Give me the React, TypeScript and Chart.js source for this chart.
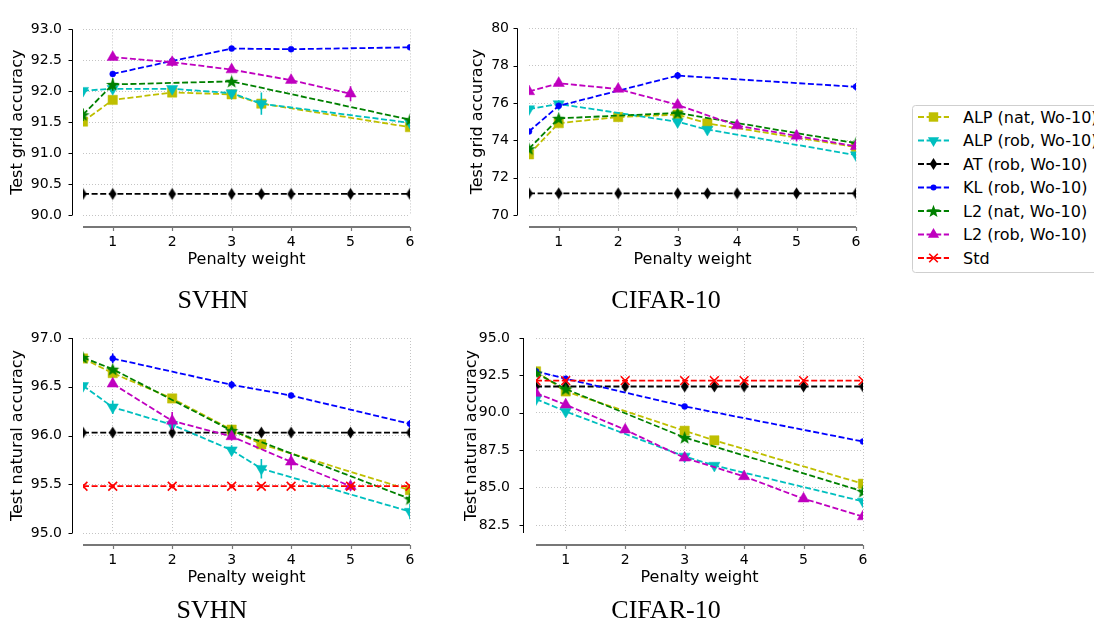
import React, { useEffect, useRef } from 'react';
import { Chart, registerables } from 'chart.js';

Chart.register(...registerables);

// ---------------- data ----------------
const PENALTY = [0.5, 1, 2, 3, 3.5, 4, 5, 6];
const X_TICKS = [1, 2, 3, 4, 5, 6];
const SERIES = [
  'ALP (nat, Wo-10)',
  'ALP (rob, Wo-10)',
  'AT (rob, Wo-10)',
  'KL (rob, Wo-10)',
  'L2 (nat, Wo-10)',
  'L2 (rob, Wo-10)',
  'Std',
];
const COLORS = ['#bfbf00', '#00bfbf', '#000000', '#0000ff', '#008000', '#bf00bf', '#ff0000'];

type V = number | null;
const _ = null;

// SVHN – test grid accuracy
const svhnGridAlpNat: V[] = [91.51, 91.86, 91.98, 91.95, 91.8, _, _, 91.42];
const svhnGridAlpRob: V[] = [92.01, 92.04, 92.04, 91.97, 91.8, _, _, 91.49];
const svhnGridAt: V[] = [90.34, 90.34, 90.34, 90.34, 90.34, 90.34, 90.34, 90.34];
const svhnGridKl: V[] = [_, 92.28, 92.49, 92.69, _, 92.68, _, 92.71];
const svhnGridL2Nat: V[] = [91.62, 92.11, _, 92.16, _, _, _, 91.54];
const svhnGridL2Rob: V[] = [_, 92.55, 92.47, 92.35, _, 92.18, 91.96, _];
const svhnGridStd: V[] = [_, _, _, _, _, _, _, _];
const svhnGridErr: number[][] = [
  [0.05, 0.04, 0.07, 0.03, 0.05, 0, 0, 0.03],
  [0.02, 0.02, 0.03, 0.03, 0.18, 0, 0, 0.03],
  [0.01, 0.01, 0.01, 0.01, 0.01, 0.01, 0.01, 0.01],
  [0, 0.03, 0.02, 0.03, 0, 0.01, 0, 0.03],
  [0.1, 0.1, 0, 0.03, 0, 0, 0, 0.05],
  [0, 0.04, 0.07, 0.04, 0, 0.04, 0.12, 0],
  [0, 0, 0, 0, 0, 0, 0, 0],
];

// CIFAR-10 – test grid accuracy
const cifarGridAlpNat: V[] = [73.25, 74.92, 75.25, 75.38, 74.91, _, _, 73.64];
const cifarGridAlpRob: V[] = [75.68, 75.95, _, 74.99, 74.58, _, _, 73.21];
const cifarGridAt: V[] = [71.16, 71.16, 71.16, 71.16, 71.16, 71.16, 71.16, 71.16];
const cifarGridKl: V[] = [74.48, 75.85, _, 77.47, _, _, _, 76.87];
const cifarGridL2Nat: V[] = [73.55, 75.18, _, 75.47, _, _, _, 73.85];
const cifarGridL2Rob: V[] = [76.62, 77.06, 76.75, 75.9, _, 74.79, 74.24, 73.68];
const cifarGridStd: V[] = [_, _, _, _, _, _, _, _];
const cifarGridErr: number[][] = [
  [0.15, 0.15, 0.1, 0.15, 0.15, 0, 0, 0.15],
  [0.1, 0.2, 0, 0.1, 0.15, 0, 0, 0.15],
  [0.1, 0.1, 0.1, 0.1, 0.1, 0.1, 0.1, 0.1],
  [0.1, 0.15, 0, 0.2, 0, 0, 0, 0.2],
  [0.15, 0.15, 0, 0.15, 0, 0, 0, 0.1],
  [0.1, 0.1, 0.1, 0.15, 0, 0.2, 0.3, 0.15],
  [0, 0, 0, 0, 0, 0, 0, 0],
];

// SVHN – test natural accuracy
const svhnNatAlpNat: V[] = [96.79, 96.64, 96.38, 96.06, 95.91, _, _, 95.44];
const svhnNatAlpRob: V[] = [96.51, 96.29, 96.11, 95.85, 95.66, _, _, 95.22];
const svhnNatAt: V[] = [96.03, 96.03, 96.03, 96.03, 96.03, 96.03, 96.03, 96.03];
const svhnNatKl: V[] = [_, 96.79, _, 96.52, _, 96.41, _, 96.12];
const svhnNatL2Nat: V[] = [96.8, 96.68, _, 96.05, _, _, _, 95.35];
const svhnNatL2Rob: V[] = [_, 96.53, 96.15, 95.99, _, 95.73, 95.48, _];
const svhnNatStd: V[] = [95.48, 95.48, 95.48, 95.48, 95.48, 95.48, 95.48, 95.48];
const svhnNatErr: number[][] = [
  [0.02, 0.03, 0.03, 0.03, 0.03, 0, 0, 0.03],
  [0.03, 0.07, 0.03, 0.05, 0.1, 0, 0, 0.08],
  [0.02, 0.02, 0.02, 0.02, 0.02, 0.02, 0.02, 0.02],
  [0, 0.05, 0, 0.04, 0, 0.02, 0, 0.04],
  [0.02, 0.03, 0, 0.02, 0, 0, 0, 0.03],
  [0, 0.03, 0.09, 0.04, 0, 0.08, 0.05, 0],
  [0.02, 0.02, 0.02, 0.02, 0.02, 0.02, 0.02, 0.02],
];

// CIFAR-10 – test natural accuracy
const cifarNatAlpNat: V[] = [92.77, 91.43, _, 88.8, 88.16, _, _, 85.26];
const cifarNatAlpRob: V[] = [90.92, 90.09, _, 87.09, 86.48, _, _, 84.08];
const cifarNatAt: V[] = [91.76, 91.76, 91.76, 91.76, 91.76, 91.76, 91.76, 91.76];
const cifarNatKl: V[] = [92.77, 92.28, _, 90.43, _, _, _, 88.08];
const cifarNatL2Nat: V[] = [92.66, 91.59, _, 88.35, _, _, _, 84.75];
const cifarNatL2Rob: V[] = [91.32, 90.54, 88.87, 86.99, _, 85.75, 84.26, 83.07];
const cifarNatStd: V[] = [92.15, 92.15, 92.15, 92.15, 92.15, 92.15, 92.15, 92.15];
const cifarNatErr: number[][] = [
  [0.15, 0.1, 0, 0.15, 0.15, 0, 0, 0.15],
  [0.1, 0.15, 0, 0.1, 0.1, 0, 0, 0.15],
  [0.15, 0.15, 0.15, 0.15, 0.15, 0.15, 0.15, 0.15],
  [0.1, 0.1, 0, 0.1, 0, 0, 0, 0.1],
  [0.15, 0.1, 0, 0.1, 0, 0, 0, 0.15],
  [0.1, 0.15, 0.1, 0.1, 0, 0.1, 0.1, 0.1],
  [0.1, 0.1, 0.1, 0.1, 0.1, 0.1, 0.1, 0.1],
];

const SVHN_GRID_TICKS = [90.0, 90.5, 91.0, 91.5, 92.0, 92.5, 93.0];
const CIFAR_GRID_TICKS = [70, 72, 74, 76, 78, 80];
const SVHN_NAT_TICKS = [95.0, 95.5, 96.0, 96.5, 97.0];
const CIFAR_NAT_TICKS = [82.5, 85.0, 87.5, 90.0, 92.5, 95.0];

const X_TITLE = 'Penalty weight';
const GRID_TITLE = 'Test grid accuracy';
const NAT_TITLE = 'Test natural accuracy';

// ---------------- styling / layout ----------------
const FONT = "'DejaVu Sans', sans-serif";
const SERIF = "'Liberation Serif', 'Times New Roman', serif";
const LINE_W = 1.8;
const DASH = [6, 2.6];

function makeMarkerCanvas(kind: 'diamond' | 'star', color: string): HTMLCanvasElement {
  const c = document.createElement('canvas');
  if (kind === 'diamond') {
    c.width = 9;
    c.height = 13;
    const ctx = c.getContext('2d')!;
    ctx.fillStyle = color;
    ctx.beginPath();
    ctx.moveTo(4.5, 0.5);
    ctx.lineTo(8.3, 6.5);
    ctx.lineTo(4.5, 12.5);
    ctx.lineTo(0.7, 6.5);
    ctx.closePath();
    ctx.fill();
  } else {
    c.width = 15;
    c.height = 15;
    const ctx = c.getContext('2d')!;
    ctx.fillStyle = color;
    ctx.beginPath();
    for (let k = 0; k < 10; k++) {
      const r = k % 2 === 0 ? 7 : 2.9;
      const a = -Math.PI / 2 + (k * Math.PI) / 5;
      const px = 7.5 + r * Math.cos(a);
      const py = 8.1 + r * Math.sin(a);
      if (k === 0) ctx.moveTo(px, py);
      else ctx.lineTo(px, py);
    }
    ctx.closePath();
    ctx.fill();
  }
  return c;
}

function markerFor(i: number): any {
  switch (i) {
    case 0:
      return { pointStyle: 'rect', pointRadius: 6.6, pointRotation: 0, pointBorderWidth: 0.5 };
    case 1:
      return { pointStyle: 'triangle', pointRadius: 6.5, pointRotation: 180, pointBorderWidth: 0.5 };
    case 2:
      return { pointStyle: makeMarkerCanvas('diamond', COLORS[2]), pointRadius: 6, pointRotation: 0, pointBorderWidth: 0 };
    case 3:
      return { pointStyle: 'circle', pointRadius: 3, pointRotation: 0, pointBorderWidth: 0.5 };
    case 4:
      return { pointStyle: makeMarkerCanvas('star', COLORS[4]), pointRadius: 6, pointRotation: 0, pointBorderWidth: 0 };
    case 5:
      return { pointStyle: 'triangle', pointRadius: 6.5, pointRotation: 0, pointBorderWidth: 0.5 };
    default:
      return { pointStyle: 'crossRot', pointRadius: 6.2, pointRotation: 0, pointBorderWidth: 1.6 };
  }
}

interface PanelSpec {
  values: V[][];
  errors: number[][];
  yMin: number;
  yMax: number;
  yTicks: number[];
  yDecimals: number;
  yTitle: string;
  cx: number;
  cy: number;
  cw: number;
  ch: number;
  l: number;
  r: number;
  t: number;
  b: number;
  yTitleX: number;
  yPad: number;
  ySpineOff: number;
}

const PANELS: PanelSpec[] = [
  {
    values: [svhnGridAlpNat, svhnGridAlpRob, svhnGridAt, svhnGridKl, svhnGridL2Nat, svhnGridL2Rob, svhnGridStd],
    errors: svhnGridErr,
    yMin: 90, yMax: 93, yTicks: SVHN_GRID_TICKS, yDecimals: 1, yTitle: GRID_TITLE,
    cx: 0, cy: 0, cw: 435, ch: 282, l: 83, r: 410, t: 20, b: 215, yTitleX: 18, yPad: 21, ySpineOff: 11,
  },
  {
    values: [cifarGridAlpNat, cifarGridAlpRob, cifarGridAt, cifarGridKl, cifarGridL2Nat, cifarGridL2Rob, cifarGridStd],
    errors: cifarGridErr,
    yMin: 70, yMax: 80, yTicks: CIFAR_GRID_TICKS, yDecimals: 0, yTitle: GRID_TITLE,
    cx: 455, cy: 0, cw: 426, ch: 282, l: 529, r: 856, t: 20, b: 215, yTitleX: 478, yPad: 20, ySpineOff: 12,
  },
  {
    values: [svhnNatAlpNat, svhnNatAlpRob, svhnNatAt, svhnNatKl, svhnNatL2Nat, svhnNatL2Rob, svhnNatStd],
    errors: svhnNatErr,
    yMin: 95, yMax: 97, yTicks: SVHN_NAT_TICKS, yDecimals: 1, yTitle: NAT_TITLE,
    cx: 0, cy: 300, cw: 435, ch: 300, l: 83, r: 410, t: 338, b: 533, yTitleX: 18, yPad: 21, ySpineOff: 11,
  },
  {
    values: [cifarNatAlpNat, cifarNatAlpRob, cifarNatAt, cifarNatKl, cifarNatL2Nat, cifarNatL2Rob, cifarNatStd],
    errors: cifarNatErr,
    yMin: 81.97, yMax: 95, yTicks: CIFAR_NAT_TICKS, yDecimals: 1, yTitle: NAT_TITLE,
    cx: 455, cy: 300, cw: 433, ch: 300, l: 536, r: 863, t: 338, b: 533, yTitleX: 472, yPad: 26, ySpineOff: 13,
  },
];

const decorPlugin = {
  id: 'decor',
  beforeDatasetDraw(chart: any, args: any) {
    const ds = chart.data.datasets[args.index];
    const { ctx, chartArea: a, scales } = chart;
    ctx.save();
    ctx.beginPath();
    ctx.rect(a.left, a.top, a.right - a.left, a.bottom - a.top);
    ctx.clip();
    ctx.strokeStyle = ds.borderColor;
    ctx.lineWidth = 1.6;
    ctx.beginPath();
    for (const p of ds.data) {
      if (!p.e) continue;
      const px = scales.x.getPixelForValue(p.x);
      ctx.moveTo(px, scales.y.getPixelForValue(p.y - p.e));
      ctx.lineTo(px, scales.y.getPixelForValue(p.y + p.e));
    }
    ctx.stroke();
    ctx.restore();
  },
  afterDraw(chart: any, _args: any, opts: any) {
    const { ctx, chartArea: a, scales } = chart;
    ctx.save();
    const sx = Math.round(a.left - opts.ySpineOff) + 0.5;
    ctx.strokeStyle = '#000';
    ctx.lineWidth = 1;
    ctx.beginPath();
    ctx.moveTo(sx, a.top);
    ctx.lineTo(sx, a.bottom);
    for (const t of scales.y.ticks) {
      const py = Math.round(scales.y.getPixelForValue(t.value)) + 0.5;
      ctx.moveTo(sx - 4, py);
      ctx.lineTo(sx, py);
    }
    ctx.stroke();
    const sy = a.bottom + opts.xSpineOff;
    ctx.strokeStyle = '#777';
    ctx.lineWidth = 1.8;
    ctx.beginPath();
    ctx.moveTo(a.left, sy);
    ctx.lineTo(a.right, sy);
    ctx.stroke();
    ctx.lineWidth = 1.2;
    ctx.beginPath();
    for (const t of scales.x.ticks) {
      const px = Math.round(scales.x.getPixelForValue(t.value)) + 0.5;
      ctx.moveTo(px, sy);
      ctx.lineTo(px, sy + 4);
    }
    ctx.stroke();
    ctx.restore();
  },
};

function makeConfig(p: PanelSpec): any {
  const datasets = SERIES.map((label, i) => {
    const pts: any[] = [];
    PENALTY.forEach((x, j) => {
      const y = p.values[i][j];
      if (y !== null && y !== undefined) pts.push({ x, y, e: p.errors[i][j] });
    });
    return {
      label,
      data: pts,
      borderColor: COLORS[i],
      backgroundColor: COLORS[i],
      pointBackgroundColor: COLORS[i],
      pointBorderColor: COLORS[i],
      borderWidth: LINE_W,
      borderDash: DASH,
      fill: false,
      tension: 0,
      clip: 0,
      order: -i,
      ...markerFor(i),
    };
  });
  const xH = p.ch - (p.b - p.cy);
  const xTitlePadBottom = p.ch - 9.6 - (p.b + 45 - p.cy);
  const yW = p.l - p.cx;
  const yTitlePadTop = p.yTitleX - p.cx - 9.6;
  const grid = { color: '#c4c4c4', lineWidth: 1, drawTicks: false };
  const border = { display: false, dash: [1, 2] };
  return {
    type: 'line',
    data: { datasets },
    plugins: [decorPlugin],
    options: {
      animation: false,
      responsive: false,
      events: [],
      layout: {
        autoPadding: false,
        padding: { left: 0, top: p.t - p.cy, right: p.cx + p.cw - p.r, bottom: 0 },
      },
      plugins: {
        legend: { display: false },
        tooltip: { enabled: false },
        decor: { ySpineOff: p.ySpineOff, xSpineOff: 12 },
      },
      scales: {
        x: {
          type: 'linear',
          min: 0.5,
          max: 6,
          afterBuildTicks: (s: any) => {
            s.ticks = X_TICKS.map((v) => ({ value: v }));
          },
          afterFit: (s: any) => {
            s.height = xH;
          },
          grid,
          border,
          ticks: {
            autoSkip: false,
            maxRotation: 0,
            padding: 19,
            color: '#000',
            font: { family: FONT, size: 14 },
            callback: (v: number) => String(v),
          },
          title: {
            display: true,
            text: X_TITLE,
            color: '#000',
            font: { family: FONT, size: 16 },
            padding: { top: 0, bottom: xTitlePadBottom },
          },
        },
        y: {
          type: 'linear',
          min: p.yMin,
          max: p.yMax,
          afterBuildTicks: (s: any) => {
            s.ticks = p.yTicks.map((v) => ({ value: v }));
          },
          afterFit: (s: any) => {
            s.width = yW;
          },
          grid,
          border,
          ticks: {
            autoSkip: false,
            padding: p.yPad,
            color: '#000',
            font: { family: FONT, size: 14 },
            callback: (v: number) => Number(v).toFixed(p.yDecimals),
          },
          title: {
            display: true,
            text: p.yTitle,
            color: '#000',
            font: { family: FONT, size: 16 },
            padding: { top: yTitlePadTop, bottom: 0 },
          },
        },
      },
    },
  };
}

function Panel({ spec }: { spec: PanelSpec }) {
  const ref = useRef<HTMLCanvasElement>(null);
  useEffect(() => {
    const chart = new Chart(ref.current as HTMLCanvasElement, makeConfig(spec));
    return () => chart.destroy();
  }, [spec]);
  return (
    <canvas
      ref={ref}
      width={spec.cw}
      height={spec.ch}
      style={{ position: 'absolute', left: spec.cx, top: spec.cy, width: spec.cw, height: spec.ch }}
    />
  );
}

function starPoints(cx: number, cy: number, R: number, r: number): string {
  const pts: string[] = [];
  for (let k = 0; k < 10; k++) {
    const rad = k % 2 === 0 ? R : r;
    const a = -Math.PI / 2 + (k * Math.PI) / 5;
    pts.push(`${(cx + rad * Math.cos(a)).toFixed(2)},${(cy + rad * Math.sin(a)).toFixed(2)}`);
  }
  return pts.join(' ');
}

function LegendMarker({ i, cx, cy }: { i: number; cx: number; cy: number }) {
  const c = COLORS[i];
  switch (i) {
    case 0:
      return <rect x={cx - 4.7} y={cy - 4.7} width={9.4} height={9.4} fill={c} />;
    case 1:
      return <polygon points={`${cx - 5.6},${cy - 3.2} ${cx + 5.6},${cy - 3.2} ${cx},${cy + 6.4}`} fill={c} />;
    case 2:
      return <polygon points={`${cx},${cy - 6} ${cx + 3.8},${cy} ${cx},${cy + 6} ${cx - 3.8},${cy}`} fill={c} />;
    case 3:
      return <circle cx={cx} cy={cy} r={3} fill={c} />;
    case 4:
      return <polygon points={starPoints(cx, cy + 0.6, 6.8, 2.8)} fill={c} />;
    case 5:
      return <polygon points={`${cx - 5.6},${cy + 3.2} ${cx + 5.6},${cy + 3.2} ${cx},${cy - 6.4}`} fill={c} />;
    default:
      return (
        <path
          d={`M${cx - 4.3} ${cy - 4.3} L${cx + 4.3} ${cy + 4.3} M${cx - 4.3} ${cy + 4.3} L${cx + 4.3} ${cy - 4.3}`}
          stroke={c}
          strokeWidth={1.6}
          fill="none"
        />
      );
  }
}

function Legend() {
  return (
    <svg width={194} height={190} style={{ position: 'absolute', left: 900, top: 95, overflow: 'hidden' }}>
      <rect x={12.5} y={10.5} width={210} height={167} rx={3} ry={3} fill="#fff" stroke="#cfcfcf" strokeWidth={1} />
      {SERIES.map((name, i) => {
        const y = 22 + i * 23.5;
        return (
          <g key={name}>
            <line x1={18} y1={y} x2={49} y2={y} stroke={COLORS[i]} strokeWidth={LINE_W} strokeDasharray={DASH.join(' ')} />
            <LegendMarker i={i} cx={33.5} cy={y} />
            <text x={63} y={y + 5.7} fontFamily={FONT} fontSize={16} fill="#000">
              {name}
            </text>
          </g>
        );
      })}
    </svg>
  );
}

const TITLES = [
  { text: 'SVHN', cx: 213, top: 287 },
  { text: 'CIFAR-10', cx: 666, top: 287 },
  { text: 'SVHN', cx: 212, top: 597 },
  { text: 'CIFAR-10', cx: 666, top: 597 },
];

export default function App() {
  return (
    <div
      style={{
        position: 'absolute',
        left: 0,
        top: 0,
        width: 1094,
        height: 632,
        overflow: 'hidden',
        background: '#fff',
      }}
    >
      {PANELS.map((p, i) => (
        <Panel key={i} spec={p} />
      ))}
      {TITLES.map((t, i) => (
        <div
          key={i}
          style={{
            position: 'absolute',
            left: t.cx - 120,
            top: t.top,
            width: 240,
            textAlign: 'center',
            fontFamily: SERIF,
            fontSize: 26,
            lineHeight: '26px',
            color: '#000',
            whiteSpace: 'nowrap',
          }}
        >
          {t.text}
        </div>
      ))}
      <Legend />
    </div>
  );
}
